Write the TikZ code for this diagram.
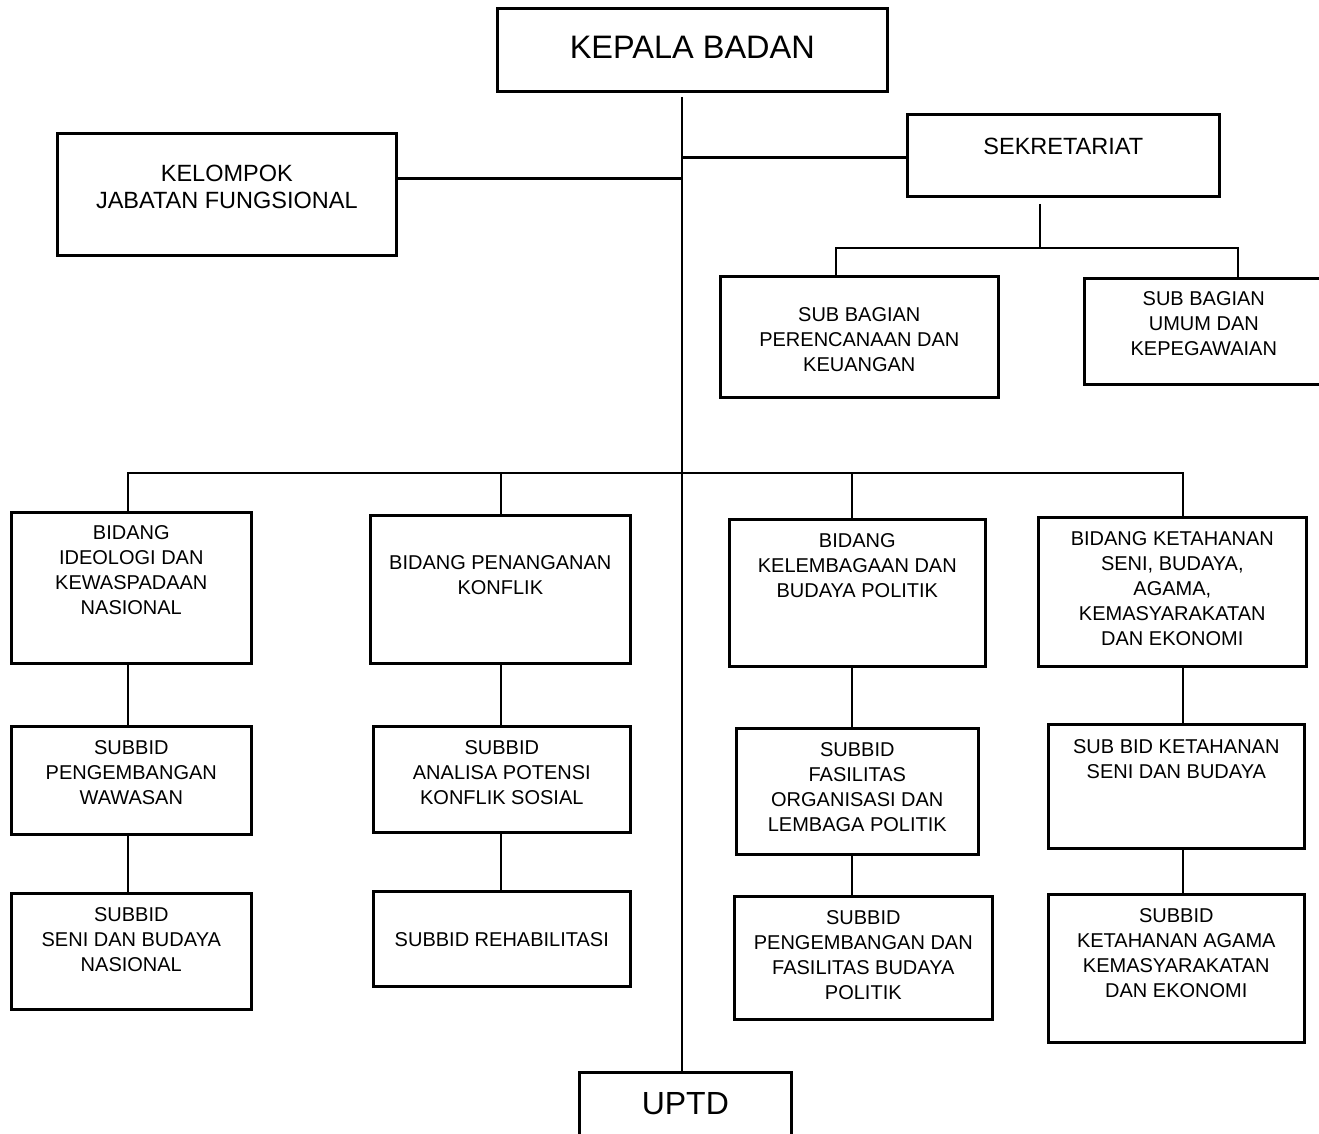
\documentclass[tikz,border=0pt]{standalone}
\usepackage{fontspec}
\setmainfont{Liberation Sans}
\usetikzlibrary{positioning}

\begin{document}
\begin{tikzpicture}[
    x=1pt,y=-1pt,
    unit/.style n args={3}{draw,line width=2.6pt,anchor=north west,inner sep=0pt,
                 align=center,minimum width=#1,text height=#2,text depth=#3,
                 font=\fontsize{20}{25}\selectfont},
    link/.style={line width=2.6pt},
  ]
    \useasboundingbox (0,0) rectangle (1319,1134);

    \node[unit={390pt}{50pt}{33pt},font=\fontsize{32.5}{38}\selectfont] (kepala) at (496,7)
      {KEPALA BADAN};
    \node[unit={339pt}{75pt}{47pt},font=\fontsize{23.5}{27}\selectfont] (kjf) at (56,132)
      {KELOMPOK\\JABATAN FUNGSIONAL};
    \node[unit={312pt}{40pt}{42pt},font=\fontsize{23.5}{27}\selectfont] (sek) at (906,113)
      {SEKRETARIAT};
    \node[unit={278pt}{95pt}{26pt}] (sbp) at (719,275)
      {SUB BAGIAN\\PERENCANAAN DAN\\KEUANGAN};
    \node[unit={239pt}{77pt}{29pt}] (sbu) at (1083,277)
      {SUB BAGIAN\\UMUM DAN\\KEPEGAWAIAN};

    \node[unit={240pt}{102pt}{49pt}] (bid1) at (10,511)
      {BIDANG\\IDEOLOGI DAN\\KEWASPADAAN\\NASIONAL};
    \node[unit={240pt}{78pt}{30pt}] (sub1a) at (10,725)
      {SUBBID\\PENGEMBANGAN\\WAWASAN};
    \node[unit={240pt}{78pt}{38pt}] (sub1b) at (10,892)
      {SUBBID\\SENI DAN BUDAYA\\NASIONAL};

    \node[unit={260pt}{79pt}{69pt}] (bid2) at (369,514)
      {BIDANG PENANGANAN\\KONFLIK};
    \node[unit={257pt}{78pt}{28pt}] (sub2a) at (372,725)
      {SUBBID\\ANALISA POTENSI\\KONFLIK SOSIAL};
    \node[unit={257pt}{55pt}{40pt}] (sub2b) at (372,890)
      {SUBBID REHABILITASI};

    \node[unit={256pt}{78pt}{69pt}] (bid3) at (728,518)
      {BIDANG\\KELEMBAGAAN DAN\\BUDAYA POLITIK};
    \node[unit={242pt}{103pt}{23pt}] (sub3a) at (735,727)
      {SUBBID\\FASILITAS\\ORGANISASI DAN\\LEMBAGA POLITIK};
    \node[unit={258pt}{103pt}{20pt}] (sub3b) at (733,895)
      {SUBBID\\PENGEMBANGAN DAN\\FASILITAS BUDAYA\\POLITIK};

    \node[unit={268pt}{128pt}{21pt}] (bid4) at (1037,516)
      {BIDANG KETAHANAN\\SENI, BUDAYA,\\AGAMA,\\KEMASYARAKATAN\\DAN EKONOMI};
    \node[unit={256pt}{54pt}{70pt}] (sub4a) at (1047,723)
      {SUB BID KETAHANAN\\SENI DAN BUDAYA};
    \node[unit={256pt}{103pt}{45pt}] (sub4b) at (1047,893)
      {SUBBID\\KETAHANAN AGAMA\\KEMASYARAKATAN\\DAN EKONOMI};

    \node[unit={212pt}{42pt}{32pt},font=\fontsize{32}{38}\selectfont] (uptd) at (578,1071)
      {UPTD};

    \coordinate (spine) at (682,97);
    \coordinate (sekstem) at (1040,204);
    \coordinate (sekL) at (836,248);
    \coordinate (sekR) at (1238,248);
    \coordinate (busL) at (128,473);
    \coordinate (bus2) at (501,473);
    \coordinate (bus3) at (852,473);
    \coordinate (busR) at (1183,473);

    \draw[link] (spine) -- (spine |- uptd.north);
    \draw[link] ([yshift=16pt]kjf.east) -| (spine);
    \draw[link] ([yshift=-2pt]sek.west) -| (spine);
    \draw[link] (sekstem) -- (sekstem |- sekL);
    \draw[link] (sekL |- sbp.north) -- (sekL) -- (sekR) -- (sekR |- sbu.north);
    \draw[link] (busL |- bid1.north) -- (busL) -- (busR) -- (busR |- bid4.north);
    \draw[link] (bus2) -- (bus2 |- bid2.north);
    \draw[link] (bus3) -- (bus3 |- bid3.north);
    \foreach \c/\a/\b/\d in {busL/bid1/sub1a/sub1b,bus2/bid2/sub2a/sub2b,
                            bus3/bid3/sub3a/sub3b,busR/bid4/sub4a/sub4b}{
      \draw[link] (\c |- \a.south) -- (\c |- \b.north);
      \draw[link] (\c |- \b.south) -- (\c |- \d.north);
    }
  \end{tikzpicture}
\end{document}
